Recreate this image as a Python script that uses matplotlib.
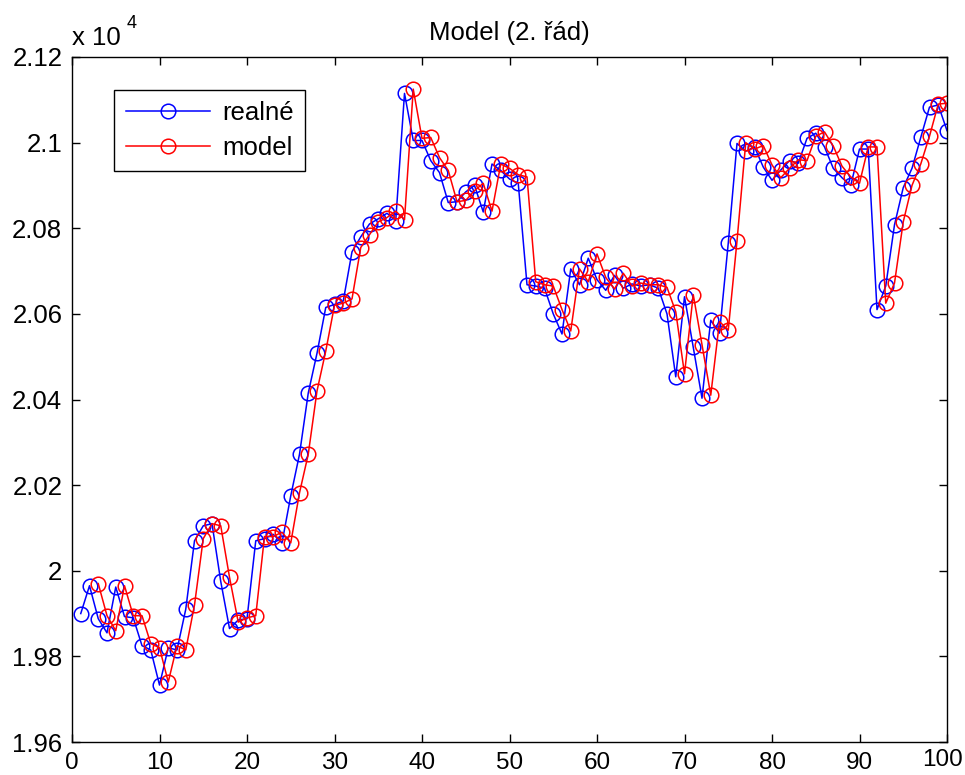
import numpy as np
import matplotlib
matplotlib.use("Agg")
import matplotlib.pyplot as plt
import matplotlib.transforms as mtransforms
from matplotlib.ticker import FuncFormatter, MultipleLocator

# ---- data ----
x = list(range(1, 101))

realne = [
    19900, 19965, 19888, 19855, 19962, 19893, 19890, 19825, 19815, 19733,
    19820, 19815, 19910, 20070, 20105, 20110, 19975, 19865, 19885, 19888,
    20070, 20075, 20085, 20065, 20175, 20272, 20415, 20508, 20615, 20622,
    20630, 20745, 20780, 20810, 20822, 20835, 20818, 21115, 21005, 21005,
    20958, 20930, 20860, 20862, 20885, 20900, 20838, 20950, 20935, 20915,
    20905, 20668, 20665, 20660, 20600, 20553, 20705, 20668, 20730, 20680,
    20655, 20690, 20660, 20670, 20665, 20668, 20660, 20600, 20453, 20640,
    20522, 20403, 20585, 20555, 20765, 20998, 20980, 20990, 20943, 20912,
    20936, 20958, 20952, 21010, 21022, 20990, 20940, 20918, 20900, 20985,
    20985, 20610, 20665, 20808, 20895, 20940, 21012, 21083, 21088, 21028,
]

model = [
    np.nan, np.nan, 19970, 19895, 19860, 19965, 19895, 19895, 19830, 19820,
    19740, 19825, 19815, 19920, 20075, 20110, 20105, 19985, 19880, 19890,
    19895, 20080, 20080, 20090, 20065, 20182, 20272, 20420, 20513, 20620,
    20625, 20635, 20755, 20785, 20815, 20825, 20840, 20820, 21125, 21010,
    21012, 20965, 20935, 20862, 20865, 20888, 20905, 20840, 20950, 20940,
    20925, 20920, 20675, 20668, 20665, 20610, 20560, 20705, 20675, 20740,
    20685, 20658, 20695, 20665, 20672, 20668, 20668, 20662, 20605, 20460,
    20645, 20528, 20410, 20582, 20562, 20770, 21000, 20985, 20993, 20948,
    20918, 20940, 20960, 20958, 21015, 21025, 20992, 20945, 20920, 20905,
    20990, 20990, 20625, 20672, 20815, 20900, 20950, 21015, 21090, 21092,
]

labels = ["realné", "model"]
title = "Model (2. řád)"
x_max = 100

# ---- figure ----
plt.rcParams['font.family'] = ['Liberation Sans', 'DejaVu Sans']
W, H = 965, 775
fig = plt.figure(figsize=(W / 100, H / 100), dpi=100)
ax = fig.add_axes([72 / W, 1 - 742 / H, (947 - 72) / W, (742 - 57) / H])

ms = 10.5
ax.plot(x, realne, '-o', color='#0000ff', lw=1.1, ms=ms, mfc='none',
        mec='#0000ff', mew=1.1, label=labels[0])
ax.plot(x, model, '-o', color='#ff0000', lw=1.1, ms=ms, mfc='none',
        mec='#ff0000', mew=1.1, label=labels[1])

ax.set_xlim(0, x_max)
ax.set_ylim(19600, 21200)
ax.xaxis.set_major_locator(MultipleLocator(10))
ax.yaxis.set_major_locator(MultipleLocator(200))
ax.yaxis.set_major_formatter(FuncFormatter(lambda v, p: "%g" % round(v / 1e4, 4)))
# the last x label is drawn separately so it stays inside the figure
ax.xaxis.set_major_formatter(FuncFormatter(lambda v, p: "" if v >= x_max else "%g" % v))

ax.tick_params(direction='in', length=6, width=1, top=True, right=True,
               labelsize=18.5, colors='black', pad=7)
ax.tick_params(axis='x', labelsize=17.5)
for s in ax.spines.values():
    s.set_linewidth(1.0)
    s.set_color('black')

trans = mtransforms.blended_transform_factory(ax.transData, ax.transAxes) + \
    mtransforms.ScaledTranslation(16 / 100, -7 / 100, fig.dpi_scale_trans)
ax.text(x_max, 0, "%g" % x_max, transform=trans, ha='right', va='top',
        fontsize=17.5, clip_on=False)

ax.set_title(title, fontsize=18.5, pad=12)

fig.text(72 / W, 1 - 45 / H, "x 10", fontsize=18.5, ha='left', va='baseline')
fig.text(127 / W, 1 - 28 / H, "4", fontsize=13, ha='left', va='baseline')

leg = ax.legend(loc='upper left', bbox_to_anchor=(0.048, 0.952), fontsize=18.5,
                frameon=True, fancybox=False, edgecolor='black', framealpha=1,
                handlelength=3.3, labelspacing=0.4, borderpad=0.45,
                handletextpad=0.45, borderaxespad=0)
leg.get_frame().set_linewidth(1.0)

fig.savefig("out.png", dpi=100, facecolor='white')
